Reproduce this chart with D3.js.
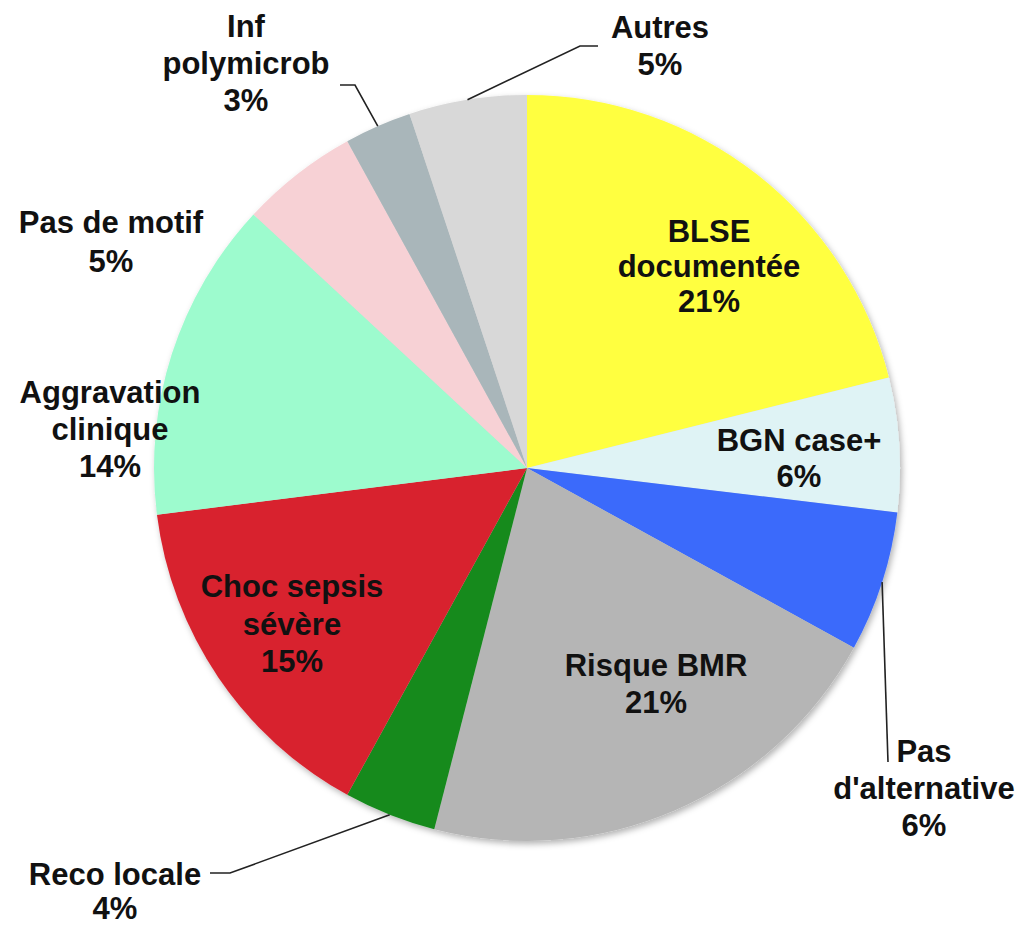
<!DOCTYPE html>
<html>
<head>
<meta charset="utf-8">
<script src="https://cdn.jsdelivr.net/npm/d3@7"></script>
<style>
    html, body { margin: 0; padding: 0; background: #fff; }
    #chart { width: 1021px; height: 926px; }
    text { font-family: "Liberation Sans", Arial, sans-serif; font-weight: bold; }
</style>
</head>
<body>
<div id="chart"></div>
<script>
// Slices, clockwise from 12 o'clock
const categories = ['BLSE documentée', 'BGN case+', "Pas d'alternative", 'Risque BMR', 'Reco locale',
    'Choc sepsis sévère', 'Aggravation clinique', 'Pas de motif', 'Inf polymicrob', 'Autres'];
const values = [21.1, 5.8, 6.1, 21.0, 4.0, 15.0, 13.9, 5.1, 2.9, 5.1];
const pctLabels = ['21%', '6%', '6%', '21%', '4%', '15%', '14%', '5%', '3%', '5%'];
const labelLines = [['BLSE', 'documentée'], ['BGN case+'], ['Pas', "d'alternative"], ['Risque BMR'], ['Reco locale'],
    ['Choc sepsis', 'sévère'], ['Aggravation', 'clinique'], ['Pas de motif'], ['Inf', 'polymicrob'], ['Autres']];
const colors = ['#ffff40', '#dff3f5', '#3b6bfb', '#b5b5b5', '#178a1f',
    '#d8222f', '#9dfbce', '#f7d1d5', '#a9b6ba', '#d8d8d8'];

// Label layout: text centre x, first baseline y, line height, optional leader elbow
const labelLayout = {
    'BLSE documentée': { x: 709, y: 242, lh: 35 },
    'BGN case+': { x: 799, y: 451, lh: 36 },
    "Pas d'alternative": { x: 924, y: 762, lh: 37, leader: [[888, 762]] },
    'Risque BMR': { x: 656, y: 676, lh: 37 },
    'Reco locale': { x: 115, y: 885, lh: 34, leader: [[230, 873], [210, 873]] },
    'Choc sepsis sévère': { x: 292, y: 597, lh: 37.5 },
    'Aggravation clinique': { x: 110, y: 403, lh: 37 },
    'Pas de motif': { x: 111, y: 233, lh: 39 },
    'Inf polymicrob': { x: 246, y: 37, lh: 37, leader: [[355, 85], [340, 85]] },
    'Autres': { x: 660, y: 38, lh: 37, leader: [[580, 46], [598, 46]] }
};

function renderPie() {
    const width = 1021, height = 926;
    const cx = 527, cy = 468, radius = 373;

    const data = categories.map((c, i) => ({ name: c, value: values[i], pct: pctLabels[i], lines: labelLines[i], color: colors[i] }));

    const svg = d3.select('#chart')
        .append('svg')
        .attr('width', width)
        .attr('height', height);

    // Soft shadow under the pie
    const defs = svg.append('defs');
    defs.append('filter')
        .attr('id', 'pieShadow')
        .attr('x', '-10%').attr('y', '-10%').attr('width', '120%').attr('height', '120%')
        .append('feDropShadow')
        .attr('dx', 2).attr('dy', 3)
        .attr('stdDeviation', 3)
        .attr('flood-color', '#000')
        .attr('flood-opacity', 0.3);

    const pie = d3.pie().sort(null).value(d => d.value);
    const arc = d3.arc().innerRadius(0).outerRadius(radius);
    const edgeArc = d3.arc().innerRadius(radius).outerRadius(radius);
    const arcs = pie(data);

    const g = svg.append('g').attr('transform', `translate(${cx},${cy})`);

    // Slices
    g.append('g')
        .attr('filter', 'url(#pieShadow)')
        .selectAll('path')
        .data(arcs)
        .join('path')
        .attr('d', arc)
        .attr('fill', d => d.data.color);

    // Leader lines for labels placed outside
    const line = d3.line();
    svg.append('g')
        .selectAll('path')
        .data(arcs.filter(d => labelLayout[d.data.name].leader))
        .join('path')
        .attr('d', d => {
            const [ex, ey] = edgeArc.centroid(d);
            return line([[cx + ex, cy + ey], ...labelLayout[d.data.name].leader]);
        })
        .attr('fill', 'none')
        .attr('stroke', '#222')
        .attr('stroke-width', 1.6);

    // Labels
    const labels = svg.append('g')
        .selectAll('text')
        .data(arcs)
        .join('text')
        .attr('text-anchor', 'middle')
        .attr('font-size', '31px')
        .attr('fill', '#111');

    labels.each(function (d) {
        const pos = labelLayout[d.data.name];
        const rows = [...d.data.lines, d.data.pct];
        d3.select(this).selectAll('tspan')
            .data(rows)
            .join('tspan')
            .attr('x', pos.x)
            .attr('y', (r, i) => pos.y + i * pos.lh)
            .text(r => r);
    });
}

renderPie();
</script>
</body>
</html>
